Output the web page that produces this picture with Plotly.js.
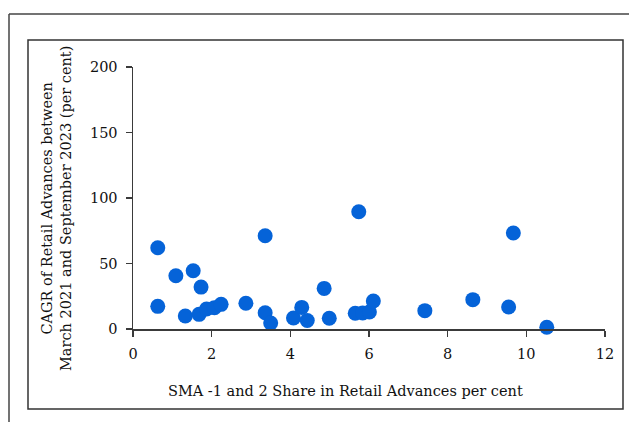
<!DOCTYPE html>
<html>
<head>
<meta charset="utf-8">
<script src="https://cdn.plot.ly/plotly-3.0.1.min.js"></script>
<style>html,body{margin:0;padding:0;background:#fff;}#chart{width:629px;height:422px;}</style>
</head>
<body>
<div id="chart"></div>
<script>
// SMA-1 and 2 share in retail advances (per cent)
const smaShare = [0.63, 0.63, 1.09, 1.33, 1.53, 1.68, 1.73, 1.87, 2.07, 2.24, 2.87, 3.36, 3.36, 3.50,
  4.08, 4.29, 4.43, 4.86, 4.99, 5.65, 5.74, 5.84, 6.01, 6.11, 7.42, 8.64, 9.55, 9.67, 10.52];
// CAGR of retail advances, Mar-2021 to Sep-2023 (per cent)
const cagr = [62, 17.3, 40.7, 9.9, 44.5, 11.2, 32, 15.3, 16.3, 18.8, 19.6, 71.2, 12.4, 4.6,
  8.4, 16.5, 6.5, 31, 8.2, 12, 89.5, 12.3, 13, 21.4, 14, 22.4, 16.8, 73.3, 1.3];
const xTicks = [0, 2, 4, 6, 8, 10, 12];
const yTicks = [0, 50, 100, 150, 200];
const xTitle = 'SMA -1 and 2 Share in Retail Advances per cent';
const yTitle = 'CAGR of Retail Advances between<br>March 2021 and September 2023 (per cent)';

const W = 629, H = 422;
const L = 133, R = 24, T = 67, B = 93;
const pw = W - L - R, ph = H - T - B;
const px = x => (x - L) / pw;
const py = y => (H - B - y) / ph;

const font = {family: 'DejaVu Serif, serif', size: 14.5, color: '#111'};

const trace = {
  x: smaShare, y: cagr, type: 'scatter', mode: 'markers',
  marker: {size: 15, color: '#0563D8', line: {width: 0}},
  cliponaxis: false, hoverinfo: 'x+y'
};

const layout = {
  width: W, height: H,
  margin: {l: L, r: R, t: T, b: B, pad: 0},
  paper_bgcolor: '#fff', plot_bgcolor: '#fff',
  font: font, showlegend: false,
  xaxis: {
    range: [0, 12], tickvals: xTicks, ticktext: xTicks.map(String),
    showgrid: false, zeroline: false, showline: true, linecolor: '#3a3a3a', linewidth: 1.5,
    ticks: 'outside', ticklen: 6, tickwidth: 1.5, tickcolor: '#3a3a3a',
    ticklabelstandoff: 5, tickfont: font
  },
  yaxis: {
    range: [0, 200], tickvals: yTicks, ticktext: yTicks.map(String),
    showgrid: false, zeroline: false, showline: true, linecolor: '#3a3a3a', linewidth: 1.5,
    ticks: 'outside', ticklen: 6, tickwidth: 1.5, tickcolor: '#3a3a3a',
    ticklabelstandoff: 5, tickfont: font
  },
  annotations: [
    {text: xTitle, xref: 'paper', yref: 'paper', x: px(345), y: py(391),
     xanchor: 'center', yanchor: 'middle', showarrow: false, font: font},
    {text: yTitle, xref: 'paper', yref: 'paper', x: px(56), y: py(209),
     xanchor: 'center', yanchor: 'middle', showarrow: false, textangle: -90, font: font}
  ],
  shapes: [
    {type: 'line', xref: 'paper', yref: 'paper', x0: px(9), x1: px(9), y0: py(14), y1: py(430),
     line: {color: '#444', width: 1.5}},
    {type: 'line', xref: 'paper', yref: 'paper', x0: px(9), x1: px(640), y0: py(14), y1: py(14),
     line: {color: '#444', width: 1.5}},
    {type: 'rect', xref: 'paper', yref: 'paper', x0: px(28), x1: px(623), y0: py(40), y1: py(409),
     line: {color: '#333', width: 1.5}}
  ]
};

Plotly.newPlot('chart', [trace], layout, {displayModeBar: false, staticPlot: true});
</script>
</body>
</html>
